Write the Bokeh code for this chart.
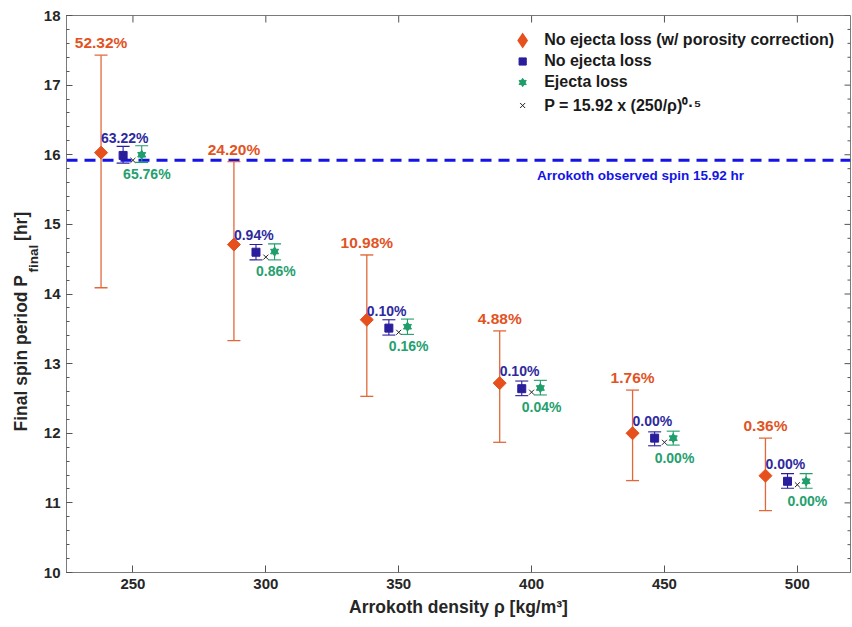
import numpy as np
from bokeh.plotting import figure
from bokeh.models import (ColumnDataSource, Whisker, TeeHead, Span, Label, Title,
                          SingleIntervalTicker, Legend, LegendItem, Range1d)
from bokeh.core.properties import value
from bokeh.embed import file_html
from bokeh.resources import INLINE

# ---------------- data ----------------
rho = [250, 300, 350, 400, 450, 500]
x_ticks = [250, 300, 350, 400, 450, 500]
y_ticks = [10, 11, 12, 13, 14, 15, 16, 17, 18]

# No ejecta loss (w/ porosity correction)
p_poro = [16.03, 14.71, 13.63, 12.72, 12.00, 11.39]
p_poro_hi = [17.43, 15.90, 14.56, 13.47, 12.62, 11.93]
p_poro_lo = [14.09, 13.33, 12.53, 11.87, 11.32, 10.89]
pct_poro = ["52.32%", "24.20%", "10.98%", "4.88%", "1.76%", "0.36%"]

# No ejecta loss
p_noej = [15.99, 14.60, 13.51, 12.64, 11.93, 11.31]
p_noej_hi = [16.12, 14.71, 13.63, 12.75, 12.02, 11.42]
p_noej_lo = [15.88, 14.49, 13.41, 12.54, 11.82, 11.21]
pct_noej = ["63.22%", "0.94%", "0.10%", "0.10%", "0.00%", "0.00%"]

# Ejecta loss
p_ej = [16.00, 14.61, 13.53, 12.65, 11.93, 11.31]
p_ej_hi = [16.13, 14.72, 13.64, 12.76, 12.03, 11.42]
p_ej_lo = [15.89, 14.49, 13.42, 12.55, 11.83, 11.21]
pct_ej = ["65.76%", "0.86%", "0.16%", "0.04%", "0.00%", "0.00%"]

# P = 15.92 x (250/rho)^0.5
p_fit = [15.92, 14.53, 13.45, 12.59, 11.87, 11.26]

observed_spin = 15.92

# ---------------- style ----------------
FONT = "Liberation Sans"
ORANGE = "#e6501c"
ORANGE_BAR = "#e2683a"
ORANGE_TXT = "#e2531f"
NAVY = "#2a1e9c"
NAVY_TXT = "#2e2a9e"
GREEN = "#1f9e6b"
GREEN_TXT = "#25a06e"
BLUE = "#1414e6"
AXC = "#7a7a7a"
TICKC = "#555555"
TXT = "#262626"

X0, X1, Y0, Y1 = 225, 520, 10, 18
off_poro, off_noej, off_ej = -12.0, -3.7, 3.3

p = figure(width=852, height=627, x_range=Range1d(X0, X1), y_range=Range1d(Y0, Y1),
           output_backend="svg", toolbar_location=None,
           min_border_left=66, min_border_right=2, min_border_top=15, min_border_bottom=55)
p.xgrid.visible = False
p.ygrid.visible = False
p.outline_line_color = AXC
p.background_fill_color = "white"
p.border_fill_color = "white"

p.xaxis.ticker = SingleIntervalTicker(interval=50, num_minor_ticks=0)
p.yaxis.ticker = SingleIntervalTicker(interval=1, num_minor_ticks=5)
for ax in (p.xaxis[0], p.yaxis[0]):
    ax.axis_line_color = AXC
    ax.major_tick_line_color = TICKC
    ax.minor_tick_line_color = TICKC
    ax.major_tick_out = 0
    ax.minor_tick_out = 0
    ax.major_tick_in = 6
    ax.minor_tick_in = 3
    ax.major_label_text_font = FONT
    ax.major_label_text_font_style = "bold"
    ax.major_label_text_font_size = "15px"
    ax.major_label_text_color = TXT
    ax.major_label_standoff = 6
p.xaxis.major_tick_in = 7
p.xaxis.axis_label = "Arrokoth density ρ [kg/m³]"
p.xaxis.axis_label_text_font = FONT
p.xaxis.axis_label_text_font_style = "bold"
p.xaxis.axis_label_text_font_size = "17.5px"
p.xaxis.axis_label_text_color = TXT
p.xaxis.axis_label_standoff = 5

# inward ticks on the top and right frame edges
p.ray(x=x_ticks, y=[Y1] * len(x_ticks), length=7, length_units="screen",
      angle=-np.pi / 2, line_color=TICKC, line_width=1)
p.ray(x=[X1] * len(y_ticks), y=y_ticks, length=6, length_units="screen",
      angle=np.pi, line_color=TICKC, line_width=1)
y_minor = [t + 0.2 * k for t in y_ticks[:-1] for k in range(1, 5)]
p.ray(x=[X1] * len(y_minor), y=y_minor, length=3, length_units="screen",
      angle=np.pi, line_color=TICKC, line_width=1)

# observed spin line
p.add_layout(Span(location=observed_spin, dimension="width", line_color=BLUE,
                  line_width=3, line_dash="11 7", level="underlay"))
p.add_layout(Label(x=402, y=observed_spin - 0.22, text="Arrokoth observed spin 15.92 hr",
                   text_font=FONT, text_font_style="bold", text_font_size="13.5px",
                   text_color=BLUE, text_align="left", text_baseline="middle"))

# sources
src_poro = ColumnDataSource(dict(
    x=[r + off_poro for r in rho], y=p_poro, hi=p_poro_hi, lo=p_poro_lo,
    lbl=pct_poro, ly=[h + 0.18 for h in p_poro_hi]))
src_noej = ColumnDataSource(dict(
    x=[r + off_noej for r in rho], y=p_noej, hi=p_noej_hi, lo=p_noej_lo,
    lbl=pct_noej, lx=[r + off_poro for r in rho], ly=[v + 0.25 for v in p_noej]))
src_ej = ColumnDataSource(dict(
    x=[r + off_ej for r in rho], y=p_ej, hi=p_ej_hi, lo=p_ej_lo,
    lbl=pct_ej, lx=[r + off_noej for r in rho], ly=[v - 0.28 for v in p_ej]))
src_fit = ColumnDataSource(dict(x=rho, y=p_fit))

# error bars
for src, col, lw in [(src_poro, ORANGE_BAR, 1.3), (src_noej, NAVY, 1.1), (src_ej, GREEN, 1.1)]:
    p.add_layout(Whisker(source=src, base="x", upper="hi", lower="lo", dimension="height",
                         line_color=col, line_width=lw,
                         upper_head=TeeHead(size=13, line_color=col, line_width=lw),
                         lower_head=TeeHead(size=13, line_color=col, line_width=lw)))

r_poro = p.scatter("x", "y", source=src_poro, marker="square", angle=np.pi / 4, size=9.2,
                   fill_color=ORANGE, line_color=ORANGE)
r_noej = p.scatter("x", "y", source=src_noej, marker="square", size=8,
                   fill_color=NAVY, line_color=NAVY)
r_ej1 = p.scatter("x", "y", source=src_ej, marker="triangle", size=8,
                  fill_color=GREEN, line_color=GREEN)
r_ej2 = p.scatter("x", "y", source=src_ej, marker="inverted_triangle", size=8,
                  fill_color=GREEN, line_color=GREEN)
r_fit = p.scatter("x", "y", source=src_fit, marker="x", size=7,
                  line_color="#222222", line_width=1)
# legend-only diamond (a single NaN point, never drawn in the plot)
r_poro_leg = p.scatter(x=[float("nan")], y=[float("nan")], marker="diamond", size=8,
                       fill_color=ORANGE, line_color=ORANGE, line_width=5, line_join="miter")

# percentage labels
p.text(x="x", y="ly", text="lbl", source=src_poro, text_align="center", text_baseline="middle",
       text_font=value(FONT), text_font_style="bold", text_font_size="15.5px", text_color=ORANGE_TXT)
p.text(x="lx", y="ly", text="lbl", source=src_noej, text_align="left", text_baseline="middle",
       text_font=value(FONT), text_font_style="bold", text_font_size="14px", text_color=NAVY_TXT)
p.text(x="lx", y="ly", text="lbl", source=src_ej, text_align="left", text_baseline="middle",
       text_font=value(FONT), text_font_style="bold", text_font_size="14px", text_color=GREEN_TXT)

# legend
legend = Legend(items=[
    LegendItem(label="No ejecta loss (w/ porosity correction)", renderers=[r_poro_leg]),
    LegendItem(label="No ejecta loss", renderers=[r_noej]),
    LegendItem(label="Ejecta loss", renderers=[r_ej1, r_ej2]),
    LegendItem(label="P = 15.92 x (250/ρ)⁰·⁵", renderers=[r_fit]),
], location="top_right", margin=0, padding=16, spacing=3,
    glyph_width=18, glyph_height=18, label_height=18, label_standoff=13,
    label_text_font=FONT, label_text_font_style="bold", label_text_font_size="16px",
    label_text_color="#1a1a1a", border_line_alpha=0, background_fill_alpha=0)
p.add_layout(legend)

# y-axis label: Final spin period P_final [hr]  (subscript in its own column)
main_offset = 141
p.add_layout(Title(text="final", align="left", offset=main_offset + 159, standoff=0,
                   text_font=FONT, text_font_style="bold", text_font_size="13.5px",
                   text_color=TXT), "left")
p.add_layout(Title(text="Final spin period P" + "\u00a0" * 7 + "[hr]", align="left",
                   offset=main_offset, standoff=-14,
                   text_font=FONT, text_font_style="bold", text_font_size="17.5px",
                   text_color=TXT), "left")

open("out.html", "w").write(file_html(p, INLINE))
